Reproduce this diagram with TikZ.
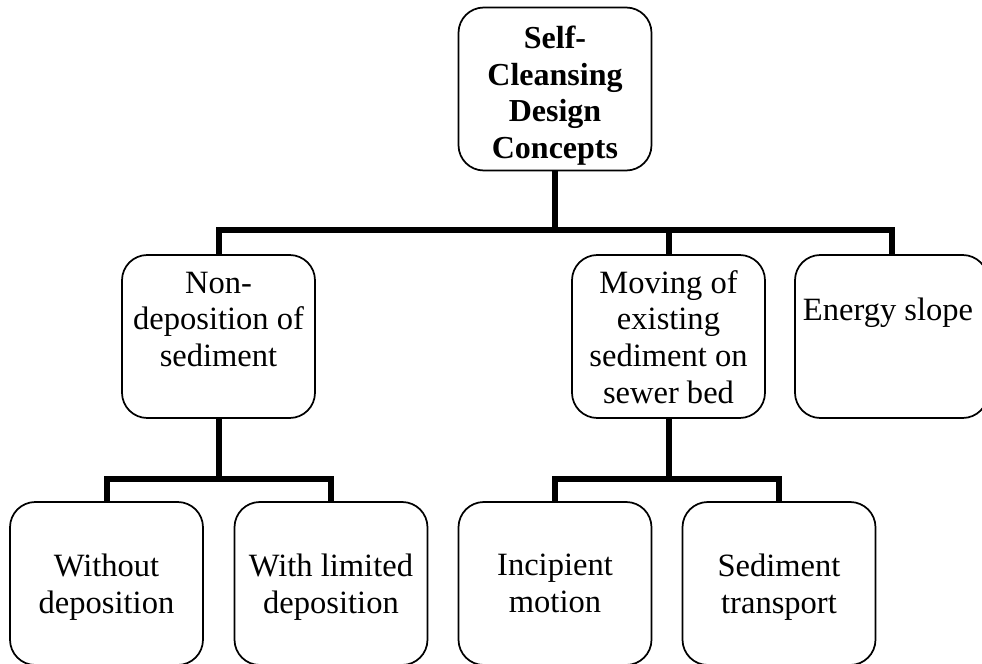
\documentclass[tikz,border=0pt]{standalone}
\usepackage{fontspec}
\setmainfont{Liberation Serif}
\begin{document}
\begin{tikzpicture}[x=0.75pt,y=-0.75pt,
  box/.style={draw,line width=1.3pt,rounded corners=19pt,minimum width=144.75pt,minimum height=122.25pt,inner sep=0pt},
  lbl/.style={align=center,font=\fontsize{24.4}{27.5}\selectfont,inner sep=0pt},
  conn/.style={line width=4.5pt,line join=miter}
]
\useasboundingbox (0,0) rectangle (982,664);
% boxes
\node[box] (top) at (555,89) {};
\node[box] (nondep) at (218.5,336.5) {};
\node[box] (moving) at (668.5,336.5) {};
\node[box] (energy) at (891.5,336.5) {};
\node[box] (without) at (106.5,583.5) {};
\node[box] (withlim) at (331,583.5) {};
\node[box] (incip) at (555,583.5) {};
\node[box] (sedtr) at (779,583.5) {};
% labels
\node[lbl,font=\fontsize{24}{27.5}\selectfont\bfseries] (ttop) at (555,95.5) {Self-\\Cleansing\\Design\\Concepts};
\node[lbl] (tnondep) at (218.5,319.5) {Non-\\deposition of\\sediment};
\node[lbl] (tmoving) at (668.5,337) {Moving of\\existing\\sediment on\\sewer bed};
\node[lbl] (tenergy) at (888,312.5) {Energy slope};
\node[lbl] (twithout) at (106.5,587) {Without\\deposition};
\node[lbl] (twithlim) at (331,587) {With limited\\deposition};
\node[lbl] (tincip) at (555,583.5) {Incipient\\motion};
\node[lbl] (tsedtr) at (779,587) {Sediment\\transport};
% connectors
\coordinate (b1) at (555,230);
\draw[conn] (top.south) -- (b1);
\draw[conn] (nondep.north) |- (b1) -| (energy.north);
\draw[conn] (moving.north) -- (moving.north |- b1);
\path (nondep.south) ++(0,60) coordinate (b2);
\draw[conn] (nondep.south) -- (b2);
\draw[conn] (without.north) |- (b2) -| (withlim.north);
\path (moving.south) ++(0,60) coordinate (b3);
\draw[conn] (moving.south) -- (b3);
\draw[conn] (incip.north) |- (b3) -| (sedtr.north);
\end{tikzpicture}
\end{document}
